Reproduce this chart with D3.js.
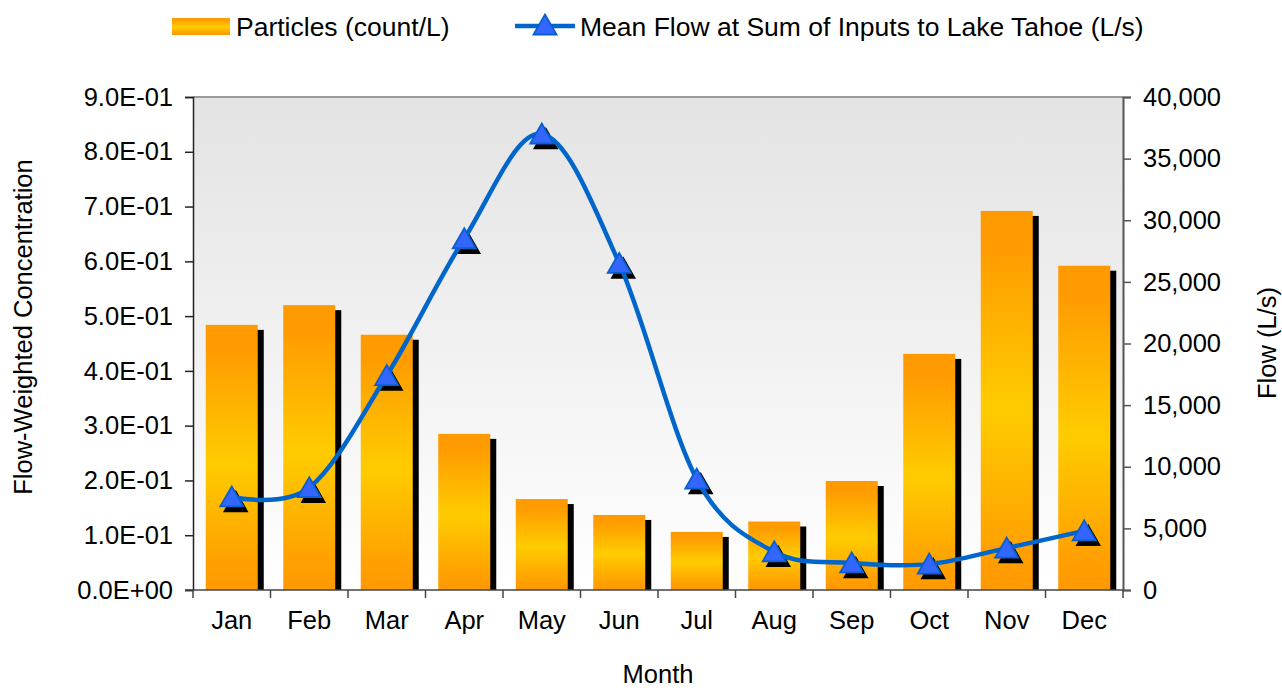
<!DOCTYPE html>
<html><head><meta charset="utf-8">
<script src="https://cdn.jsdelivr.net/npm/d3@7"></script>
<style>
body{margin:0;background:#fff;}
text{font-family:"Liberation Sans",Arial,sans-serif;fill:#000;}
</style></head>
<body><svg id="chart" width="1282" height="688"></svg>
<script>
const months = ["Jan","Feb","Mar","Apr","May","Jun","Jul","Aug","Sep","Oct","Nov","Dec"];
const particles = [0.484,0.520,0.466,0.285,0.166,0.137,0.106,0.125,0.199,0.431,0.692,0.592];
const flow = [7550,8300,17400,28500,37000,26500,9000,3100,2200,2100,3400,4800];
const leftTicks = [0,0.1,0.2,0.3,0.4,0.5,0.6,0.7,0.8,0.9];
const rightTicks = [0,5000,10000,15000,20000,25000,30000,35000,40000];
const seriesNames = ["Particles (count/L)","Mean Flow at Sum of Inputs to Lake Tahoe (L/s)"];

const svg = d3.select("#chart");
const L=193, R=1123, T=97, B=590;
const FS = 25.5, LFS = 26.5;

const defs = svg.append("defs");
const bg = defs.append("linearGradient").attr("id","bg").attr("x1",0).attr("y1",0).attr("x2",0).attr("y2",1);
bg.append("stop").attr("offset",0).attr("stop-color","#E3E3E3");
bg.append("stop").attr("offset",1).attr("stop-color","#FFFFFF");
const bar = defs.append("linearGradient").attr("id","bar").attr("x1",0).attr("y1",0).attr("x2",0).attr("y2",1);
[[0,"#FF9900"],[0.1,"#FF9C00"],[0.52,"#FFCC00"],[0.9,"#FFA000"],[1,"#FF9900"]].forEach(s=>
  bar.append("stop").attr("offset",s[0]).attr("stop-color",s[1]));

const x = d3.scaleBand().domain(months).range([L,R]).paddingInner(0.329).paddingOuter(0.1645);
const yL = d3.scaleLinear().domain([0,0.9]).range([B,T]);
const yR = d3.scaleLinear().domain([0,40000]).range([B,T]);

// plot background
svg.append("rect").attr("x",L).attr("y",T).attr("width",R-L).attr("height",B-T).attr("fill","url(#bg)");

// bar shadows and bars
const bw = x.bandwidth();
svg.append("g").selectAll("rect").data(months).join("rect")
  .attr("x",m=>x(m)+6).attr("y",(m,i)=>yL(particles[i])+5)
  .attr("width",bw).attr("height",(m,i)=>B-yL(particles[i])-5).attr("fill","#000");
svg.append("g").selectAll("rect").data(months).join("rect")
  .attr("x",m=>x(m)).attr("y",(m,i)=>yL(particles[i]))
  .attr("width",bw).attr("height",(m,i)=>B-yL(particles[i])).attr("fill","url(#bar)");

// frame
svg.append("line").attr("x1",L).attr("x2",R).attr("y1",T).attr("y2",T).attr("stroke","#9A9A9A").attr("stroke-width",2);

// axes
const axL = svg.append("g").attr("transform",`translate(${L},0)`)
  .call(d3.axisLeft(yL).tickValues(leftTicks).tickSize(8).tickPadding(12)
    .tickFormat(d=>{const s=d3.format(".1e")(d).replace("e","E"); return s.replace(/E([+-])(\d)$/,"E$10$2");}));
axL.select(".domain").attr("stroke","#222").attr("stroke-width",1.5);
axL.selectAll(".tick line").attr("stroke","#222").attr("stroke-width",1.5);
axL.selectAll("text").attr("font-size",FS).attr("font-family","Liberation Sans, Arial, sans-serif").attr("fill","#000");

const axR = svg.append("g").attr("transform",`translate(${R},0)`)
  .call(d3.axisRight(yR).tickValues(rightTicks).tickSize(8).tickPadding(12).tickFormat(d3.format(",")));
axR.select(".domain").attr("stroke","#555").attr("stroke-width",2);
axR.selectAll(".tick line").attr("stroke","#555").attr("stroke-width",1.5);
axR.selectAll("text").attr("font-size",FS).attr("font-family","Liberation Sans, Arial, sans-serif").attr("fill","#000");

// bottom axis
svg.append("line").attr("x1",L-8).attr("x2",R).attr("y1",B).attr("y2",B).attr("stroke","#444").attr("stroke-width",1.5);
const bticks = d3.range(months.length+1).map(i=>x.range()[0]+i*x.step());
svg.append("g").selectAll("line").data(bticks).join("line")
  .attr("x1",d=>d).attr("x2",d=>d).attr("y1",B).attr("y2",B+8).attr("stroke","#444").attr("stroke-width",1.5);
svg.append("g").selectAll("text").data(months).join("text")
  .attr("x",m=>x(m)+bw/2).attr("y",629).attr("text-anchor","middle").attr("font-size",FS).text(m=>m);

// line
const pts = months.map((m,i)=>[x(m)+bw/2, yR(flow[i])]);
const tri = "M0,-10.5L11.5,9.5L-11.5,9.5Z";
svg.append("g").selectAll("path").data(pts).join("path")
  .attr("d",tri).attr("transform",d=>`translate(${d[0]+4},${d[1]+5})`).attr("fill","#000").attr("stroke","#000").attr("stroke-width",1.5);
svg.append("path").datum(pts).attr("d",d3.line().curve(d3.curveCardinal.tension(0)))
  .attr("fill","none").attr("stroke","#0066CC").attr("stroke-width",4.5);
svg.append("g").selectAll("path").data(pts).join("path")
  .attr("d",tri).attr("transform",d=>`translate(${d[0]},${d[1]})`).attr("fill","#3366FF").attr("stroke","#0A5FD0").attr("stroke-width",1.8);

// axis titles
svg.append("text").attr("x",658).attr("y",683).attr("text-anchor","middle").attr("font-size",FS).text("Month");
svg.append("text").attr("transform","translate(32,327) rotate(-90)").attr("text-anchor","middle").attr("font-size",FS).text("Flow-Weighted Concentration");
svg.append("text").attr("transform","translate(1276,343) rotate(-90)").attr("text-anchor","middle").attr("font-size",FS).text("Flow (L/s)");

// legend
svg.append("rect").attr("x",172).attr("y",18).attr("width",58).attr("height",17).attr("fill","url(#bar)");
svg.append("text").attr("x",236).attr("y",36).attr("font-size",LFS).text(seriesNames[0]);
svg.append("line").attr("x1",515).attr("x2",575).attr("y1",26).attr("y2",26).attr("stroke","#0066CC").attr("stroke-width",4.5);
svg.append("path").attr("d",tri).attr("transform","translate(545,25)").attr("fill","#3366FF").attr("stroke","#0A5FD0").attr("stroke-width",1.8);
svg.append("text").attr("x",580).attr("y",36).attr("font-size",LFS).text(seriesNames[1]);
</script></body></html>
